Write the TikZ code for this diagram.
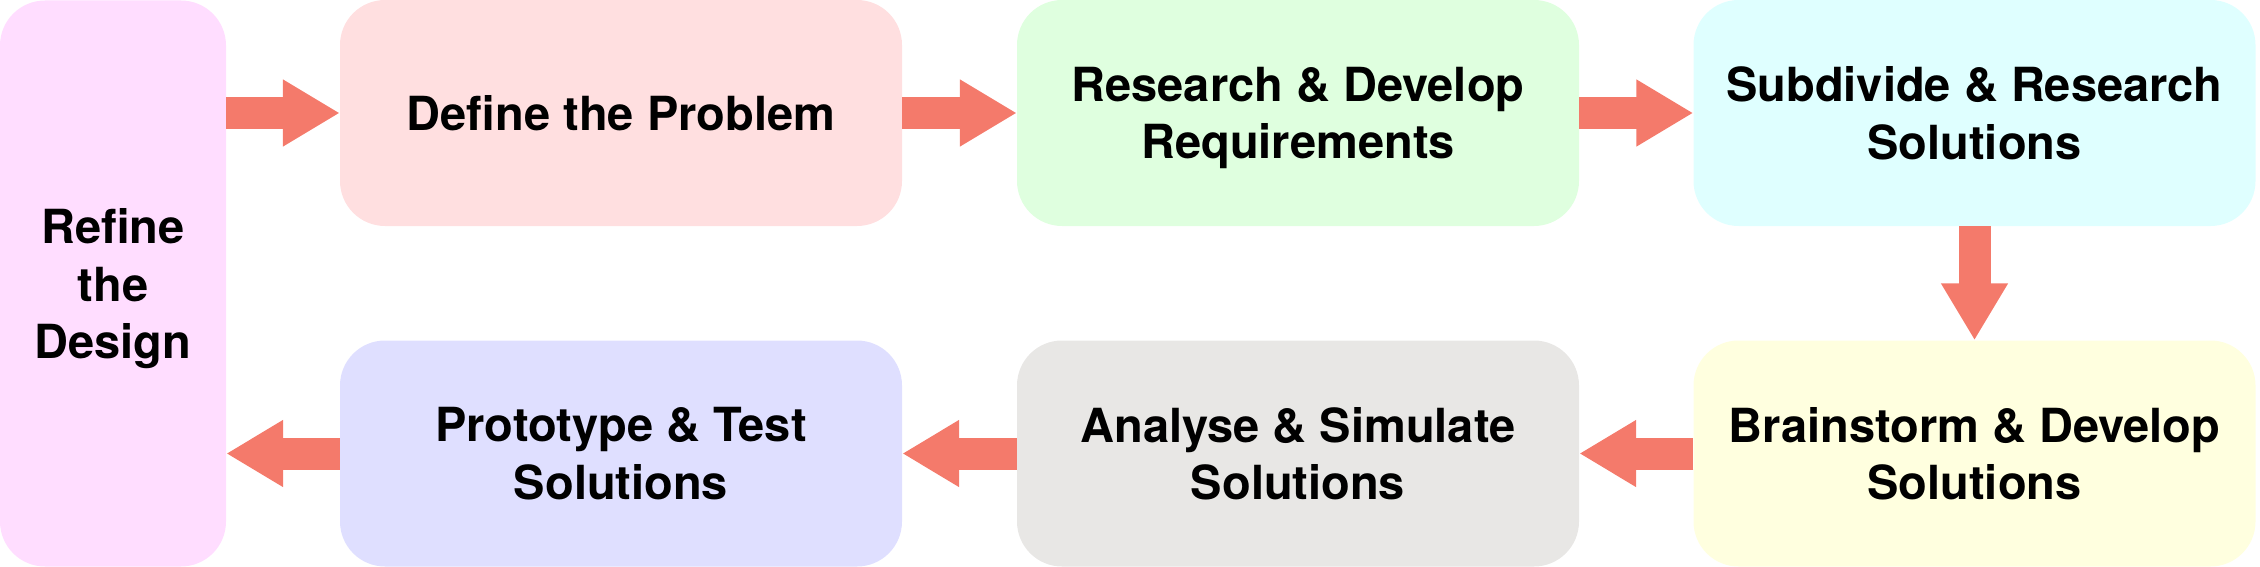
\documentclass[tikz,border=0pt]{standalone}
\usepackage{fontspec}
\setmainfont{TeX Gyre Heros}
\usetikzlibrary{arrows.meta}
\definecolor{arrowred}{HTML}{F47A6B}
\definecolor{cRefine}{HTML}{FFDDFF}
\definecolor{cDefine}{HTML}{FFDFE0}
\definecolor{cResearch}{HTML}{DFFFDF}
\definecolor{cSubdiv}{HTML}{DFFFFF}
\definecolor{cBrain}{HTML}{FFFFDF}
\definecolor{cAnalyse}{HTML}{E8E7E5}
\definecolor{cProto}{HTML}{DFDFFF}
\begin{document}
\begin{tikzpicture}[x=1pt,y=-1pt,
  stepbox/.style={rectangle, rounded corners=45pt, draw=none, inner sep=0pt,
    minimum width=562pt, minimum height=226pt, align=center, text depth=0pt,
    font=\fontsize{47}{57.5}\selectfont\bfseries},
  bigarrow/.style={draw=arrowred, line width=32pt,
    -{Triangle[length=57pt,width=63pt,fill=arrowred,color=arrowred]}}]
\useasboundingbox (0,0) rectangle (2260,567);
\node[stepbox, fill=cRefine, minimum width=226pt, minimum height=566pt] (refine) at (113,283.5) {Refine\\the\\Design};
\node[stepbox, fill=cDefine] (define) at (621,113) {Define the Problem};
\node[stepbox, fill=cResearch] (research) at (1298,113) {Research \& Develop\\Requirements};
\node[stepbox, fill=cSubdiv] (subdiv) at (1974.5,113) {Subdivide \& Research\\Solutions};
\node[stepbox, fill=cBrain] (brain) at (1974.5,453.5) {Brainstorm \& Develop\\Solutions};
\node[stepbox, fill=cAnalyse] (analyse) at (1298,453.5) {Analyse \& Simulate\\Solutions};
\node[stepbox, fill=cProto] (proto) at (621,453.5) {Prototype \& Test\\Solutions};
\draw[bigarrow] (refine.east |- define.west) -- (define.west);
\draw[bigarrow] (define.east) -- (research.west);
\draw[bigarrow] (research.east) -- (subdiv.west);
\draw[bigarrow] (subdiv.south) -- (brain.north);
\draw[bigarrow] (brain.west) -- (analyse.east);
\draw[bigarrow] (analyse.west) -- (proto.east);
\draw[bigarrow] (proto.west) -- (refine.east |- proto.west);
\end{tikzpicture}
\end{document}
